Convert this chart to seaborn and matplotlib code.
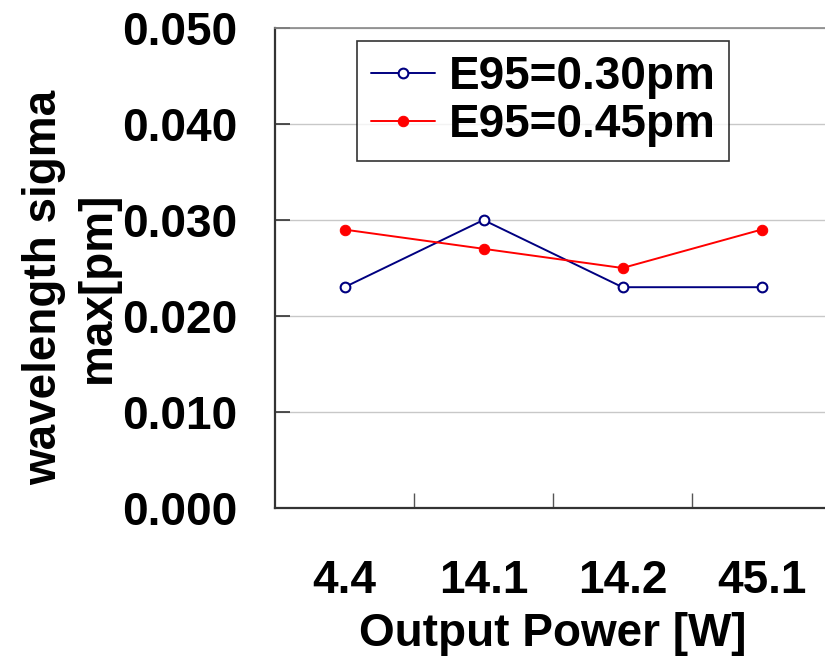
import matplotlib
matplotlib.use("Agg")
import matplotlib.pyplot as plt
import pandas as pd
import seaborn as sns
from matplotlib.ticker import FixedLocator

# data
power_labels = ["4.4", "14.1", "14.2", "45.1"]
sigma_e95_030 = [0.023, 0.030, 0.023, 0.023]
sigma_e95_045 = [0.029, 0.027, 0.025, 0.029]
series_names = ["E95=0.30pm", "E95=0.45pm"]
y_ticks = [0.0, 0.01, 0.02, 0.03, 0.04, 0.05]

df = pd.DataFrame({
    "power": power_labels * 2,
    "sigma": sigma_e95_030 + sigma_e95_045,
    "series": [series_names[0]] * 4 + [series_names[1]] * 4,
})

sns.set_style("white")
plt.rcParams["font.family"] = ["Liberation Sans", "DejaVu Sans"]
plt.rcParams["font.weight"] = "bold"
for key in ["text.color", "axes.labelcolor", "xtick.labelcolor", "ytick.labelcolor"]:
    plt.rcParams[key] = "black"

FS = 33

fig = plt.figure(figsize=(8.25, 6.59), dpi=100)
ax = fig.add_axes([275 / 825, 151 / 659, 556 / 825, 480 / 659])

sns.lineplot(
    data=df[df["series"] == series_names[0]], x="power", y="sigma",
    ax=ax, color="#000080", lw=1.4, marker="o", markersize=7,
    markerfacecolor="white", markeredgecolor="#000080", markeredgewidth=1.5,
    label=series_names[0],
)
sns.lineplot(
    data=df[df["series"] == series_names[1]], x="power", y="sigma",
    ax=ax, color="#ff0000", lw=1.4, marker="o", markersize=7.5,
    markerfacecolor="#ff0000", markeredgecolor="#ff0000",
    label=series_names[1],
)

ax.set_xlim(-0.5, 3.5)
ax.set_ylim(0, 0.05)
ax.set_yticks(y_ticks)
ax.set_yticklabels([f"{v:.3f}" for v in y_ticks])
ax.yaxis.grid(True, color="#c8c8c8", lw=1)
ax.set_axisbelow(True)

# inward ticks between the categories, none under the labels
ax.xaxis.set_minor_locator(FixedLocator([0.5, 1.5, 2.5]))
ax.tick_params(axis="x", which="major", bottom=True, length=0, pad=37, labelsize=FS)
ax.tick_params(axis="x", which="minor", bottom=True, direction="in", length=11,
               width=1, color="#555555")
ax.tick_params(axis="y", left=True, direction="in", length=11, width=1.2,
               color="#333333", pad=27, labelsize=FS)
for lab in ax.get_xticklabels() + ax.get_yticklabels():
    lab.set_fontweight("bold")

for side in ["left", "bottom"]:
    ax.spines[side].set_color("#333333")
    ax.spines[side].set_linewidth(1.6)
ax.spines["top"].set_color("#888888")
ax.spines["top"].set_linewidth(1.2)
ax.spines["right"].set_visible(False)

ax.set_xlabel("Output Power [W]", fontsize=FS, fontweight="bold", labelpad=6)
ax.set_ylabel("wavelength sigma\nmax[pm]", fontsize=FS, fontweight="bold",
              linespacing=1.3)
ax.yaxis.set_label_coords(-(275 - 120) / 556, (508 - 287) / 480)

leg = ax.legend(loc="upper left", bbox_to_anchor=(82 / 556, 1 - 13 / 480),
                fontsize=FS, frameon=True, fancybox=False, handlelength=1.4,
                handletextpad=0.3, borderpad=0.3, labelspacing=0.1,
                borderaxespad=0)
leg.get_frame().set_edgecolor("black")
leg.get_frame().set_linewidth(1.2)
for t in leg.get_texts():
    t.set_fontweight("bold")

fig.savefig("out.png", dpi=100)
